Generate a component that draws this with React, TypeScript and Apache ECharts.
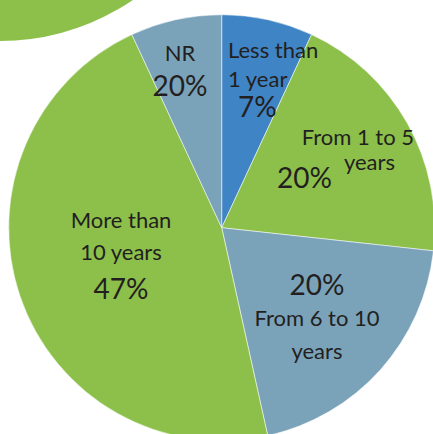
import React, { useEffect, useRef } from 'react';
import * as echarts from 'echarts';

// ---- data ----
const categories = ['Less than 1 year', 'From 1 to 5 years', 'From 6 to 10 years', 'More than 10 years', 'NR'];
const values = [7, 20, 20, 47, 7];
const percentLabels = ['7%', '20%', '20%', '47%', '20%'];
const labelLines = [['Less than', '1 year'], ['From 1 to 5', 'years'], ['From 6 to 10', 'years'], ['More than', '10 years'], ['NR']];

// ---- styles ----
const GREEN = '#8cc04a';
const BLUE = '#3f84c5';
const GREYBLUE = '#7aa3ba';
const sliceColors = [BLUE, GREEN, GREYBLUE, GREEN, GREYBLUE];
const TEXT = '#231f20';
const FONT = 'Lato, "Noto Sans", sans-serif';
const SMALL = 22;
const BIG = 28;

// label block anchors (layout only)
const labelAnchors = [
  { x: 228, y: 77.5, align: 'left' },
  { x: 414, y: 162.9, align: 'right' },
  { x: 317, y: 317.5, align: 'center' },
  { x: 121, y: 255.9, align: 'center' },
  { x: 180, y: 70.2, align: 'center' },
];

function labelText(i: number): string {
  const l = labelLines[i];
  const p = percentLabels[i];
  switch (i) {
    case 0:
      return `{a0|${l[0]}}\n{a0|${l[1]}}\n{b0|${p}}`;
    case 1:
      return `{a1|${l[0]}}\n{b1|${p}}{y1|${l[1]}}`;
    case 2:
      return `{b2|${p}}\n{a2|${l[0]}}\n{a2|${l[1]}}`;
    case 3:
      return `{a3|${l[0]}}\n{a3|${l[1]}}\n{b3|${p}}`;
    default:
      return `{a4|${l[0]}}\n{b4|${p}}`;
  }
}

const base = (size: number) => ({ fontFamily: FONT, fontSize: size, color: TEXT });

const rich: Record<string, any> = {
  a0: { ...base(SMALL), lineHeight: 28.4, align: 'left' },
  b0: { ...base(BIG), lineHeight: 27, align: 'left', padding: [0, 0, 0, 10] },
  a1: { ...base(SMALL), lineHeight: 28, align: 'right' },
  b1: { ...base(BIG), lineHeight: 52.8, align: 'right', padding: [0, 12, 0, 0] },
  y1: { ...base(SMALL), lineHeight: 20, align: 'right', verticalAlign: 'top', padding: [0, 19, 0, 0] },
  a2: { ...base(SMALL), lineHeight: 33.3, align: 'center' },
  b2: { ...base(BIG), lineHeight: 32.7, align: 'center' },
  a3: { ...base(SMALL), lineHeight: 32.3, align: 'center' },
  b3: { ...base(BIG), lineHeight: 41.1, align: 'center' },
  a4: { ...base(SMALL), lineHeight: 30, align: 'center' },
  b4: { ...base(BIG), lineHeight: 35.4, align: 'center' },
};

export default function App() {
  const ref = useRef<HTMLDivElement>(null);

  useEffect(() => {
    if (!ref.current) return;
    const chart = echarts.init(ref.current, undefined, { renderer: 'svg' });
    chart.setOption({
      animation: false,
      backgroundColor: '#ffffff',
      graphic: [
        {
          type: 'circle',
          shape: { cx: 0, cy: -195, r: 236 },
          style: { fill: GREEN },
          z: 0,
        },
      ],
      series: [
        {
          type: 'pie',
          center: [221.7, 227.7],
          radius: [0, 213],
          startAngle: 90,
          clockwise: true,
          avoidLabelOverlap: false,
          silent: true,
          itemStyle: { borderColor: 'rgba(255,255,255,0.75)', borderWidth: 0.7 },
          label: {
            show: true,
            position: 'inside',
            align: 'center',
            verticalAlign: 'middle',
            formatter: (p: any) => labelText(p.dataIndex),
            rich,
          },
          labelLine: { show: false },
          labelLayout: (p: any) => {
            const a = labelAnchors[p.dataIndex];
            return { x: a.x, y: a.y, align: a.align, verticalAlign: 'middle' };
          },
          data: categories.map((name, i) => ({
            name,
            value: values[i],
            itemStyle: { color: sliceColors[i] },
          })),
        },
      ],
    });
    return () => chart.dispose();
  }, []);

  return (
    <div
      ref={ref}
      style={{ position: 'fixed', left: 0, top: 0, width: 433, height: 434, background: '#fff' }}
    />
  );
}
